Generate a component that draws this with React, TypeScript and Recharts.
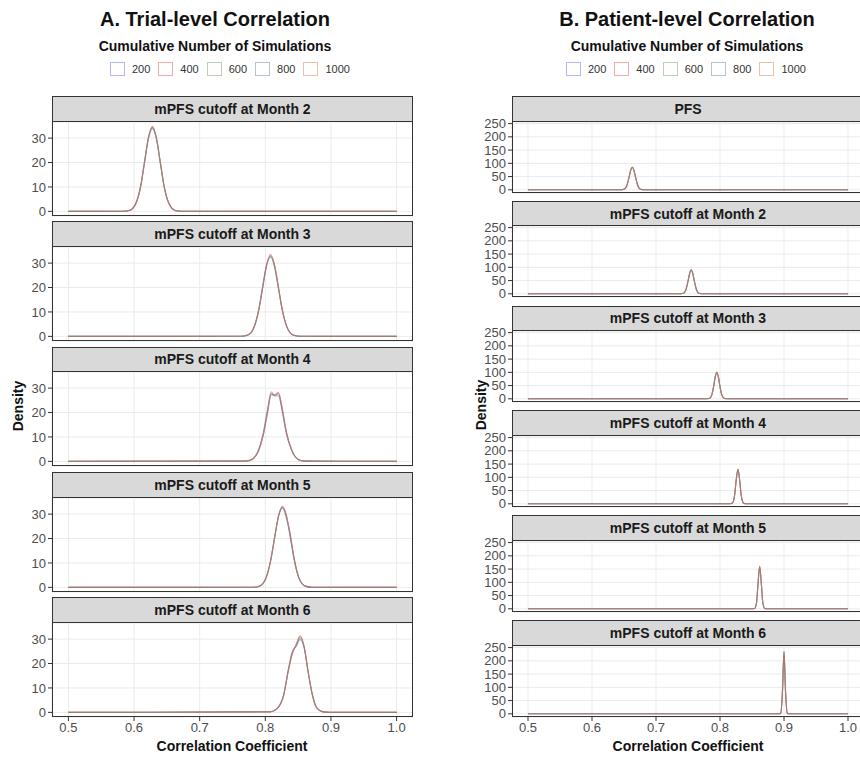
import React from "react";
import { LineChart, Line, XAxis, YAxis, CartesianGrid } from "recharts";

// simulation counts and their colours
const SIMS = ["200", "400", "600", "800", "1000"];
const SIM_COLORS = ["#5b5bf0", "#e04848", "#5f9a5f", "#5a7896", "#d8744c"];

const X_TICKS = [0.5, 0.6, 0.7, 0.8, 0.9, 1.0];
const TRIAL_Y_TICKS = [0, 10, 20, 30];
const PATIENT_Y_TICKS = [0, 50, 100, 150, 200, 250];

// ---- A. trial-level densities (x grid + one row per simulation count) ----
const TRIAL_M2_X = [0.5, 0.583, 0.593, 0.603, 0.61, 0.616, 0.622, 0.628, 0.634, 0.64, 0.646, 0.653, 0.663, 0.673, 1.0];
const TRIAL_M2_Y = [
  [0, 0.03, 0.4, 3.6, 10.5, 20.6, 30.0, 33.8, 29.6, 19.7, 9.8, 3.2, 0.3, 0.02, 0],
  [0, 0.02, 0.35, 3.3, 10.1, 20.2, 30.4, 34.8, 30.3, 20.2, 10.1, 3.3, 0.35, 0.02, 0],
  [0, 0.02, 0.32, 3.2, 9.9, 20.0, 30.2, 34.5, 30.2, 20.3, 10.2, 3.4, 0.36, 0.02, 0],
  [0, 0.02, 0.34, 3.4, 10.1, 20.1, 30.0, 34.2, 30.0, 20.0, 9.9, 3.3, 0.33, 0.02, 0],
  [0, 0.02, 0.33, 3.3, 10.0, 20.1, 30.3, 34.6, 30.2, 20.1, 10.0, 3.3, 0.34, 0.02, 0],
];

const TRIAL_M3_X = [0.5, 0.763, 0.773, 0.783, 0.79, 0.796, 0.802, 0.808, 0.814, 0.82, 0.826, 0.833, 0.843, 0.853, 1.0];
const TRIAL_M3_Y = [
  [0, 0.05, 0.6, 4.2, 11.3, 20.8, 29.4, 32.4, 28.4, 19.4, 10.4, 3.7, 0.5, 0.04, 0],
  [0, 0.03, 0.45, 3.7, 10.5, 19.8, 29.3, 33.6, 29.4, 20.1, 10.7, 3.8, 0.46, 0.03, 0],
  [0, 0.03, 0.44, 3.8, 10.8, 20.1, 29.0, 32.9, 29.2, 20.2, 10.8, 3.8, 0.45, 0.03, 0],
  [0, 0.04, 0.5, 3.9, 10.9, 20.3, 29.2, 32.7, 28.8, 19.8, 10.6, 3.8, 0.47, 0.03, 0],
  [0, 0.03, 0.46, 3.8, 10.7, 20.0, 29.2, 33.2, 29.2, 20.0, 10.7, 3.8, 0.46, 0.03, 0],
];

const TRIAL_M4_X = [0.5, 0.77, 0.78, 0.79, 0.797, 0.803, 0.809, 0.8145, 0.82, 0.826, 0.832, 0.84, 0.85, 0.86, 1.0];
const TRIAL_M4_Y = [
  [0, 0.15, 1.0, 5.0, 12.0, 21.0, 28.5, 26.8, 26.8, 20.0, 11.5, 4.6, 0.8, 0.1, 0],
  [0, 0.1, 0.8, 4.4, 10.8, 19.2, 27.2, 27.3, 28.3, 21.4, 12.2, 4.8, 0.8, 0.1, 0],
  [0, 0.1, 0.8, 4.5, 11.0, 19.6, 27.6, 27.0, 27.9, 21.0, 12.0, 4.8, 0.8, 0.1, 0],
  [0, 0.12, 0.9, 4.7, 11.4, 20.1, 28.0, 26.9, 27.4, 20.6, 11.8, 4.7, 0.8, 0.1, 0],
  [0, 0.1, 0.8, 4.5, 11.0, 19.4, 27.4, 27.1, 28.0, 21.1, 12.1, 4.8, 0.8, 0.1, 0],
];

const TRIAL_M5_X = [0.5, 0.781, 0.791, 0.801, 0.808, 0.814, 0.82, 0.826, 0.832, 0.838, 0.844, 0.851, 0.861, 0.871, 1.0];
const TRIAL_M5_Y = [
  [0, 0.04, 0.5, 4.0, 11.0, 20.4, 29.0, 32.4, 29.0, 20.2, 11.0, 3.8, 0.5, 0.03, 0],
  [0, 0.03, 0.45, 3.7, 10.6, 19.9, 29.1, 33.1, 29.7, 21.3, 11.7, 4.1, 0.5, 0.03, 0],
  [0, 0.03, 0.46, 3.8, 10.7, 20.0, 29.2, 33.0, 29.5, 21.0, 11.5, 4.0, 0.5, 0.03, 0],
  [0, 0.03, 0.47, 3.9, 10.8, 20.2, 29.0, 32.7, 28.2, 22.0, 12.0, 4.1, 0.5, 0.03, 0],
  [0, 0.03, 0.46, 3.8, 10.7, 20.0, 29.1, 33.1, 29.6, 21.1, 11.5, 4.0, 0.5, 0.03, 0],
];

const TRIAL_M6_X = [0.5, 0.808, 0.818, 0.828, 0.835, 0.841, 0.847, 0.853, 0.859, 0.865, 0.871, 0.878, 0.888, 0.898, 1.0];
const TRIAL_M6_Y = [
  [0, 0.25, 1.7, 7.5, 17.6, 24.8, 27.0, 29.8, 26.6, 17.2, 8.2, 2.1, 0.2, 0, 0],
  [0, 0.2, 1.5, 7.0, 16.8, 23.8, 27.6, 31.2, 27.2, 17.0, 8.0, 2.0, 0.2, 0, 0],
  [0, 0.2, 1.5, 7.0, 17.0, 24.0, 27.8, 31.4, 27.0, 16.9, 7.9, 2.0, 0.2, 0, 0],
  [0, 0.22, 1.6, 7.2, 17.3, 24.6, 27.3, 30.4, 26.8, 17.1, 8.1, 2.0, 0.2, 0, 0],
  [0, 0.2, 1.5, 7.0, 17.0, 24.1, 27.6, 31.1, 27.1, 17.0, 8.0, 2.0, 0.2, 0, 0],
];

// ---- B. patient-level densities ----
const PAT_PFS_X = [0.5, 0.643, 0.651, 0.655, 0.658, 0.6605, 0.663, 0.6655, 0.668, 0.671, 0.675, 0.683, 1.0];
const PAT_PFS_Y = [
  [0, 0, 3.5, 20.5, 48.8, 73.6, 84.0, 73.2, 48.0, 20.2, 3.4, 0, 0],
  [0, 0, 3.3, 20.0, 48.3, 74.2, 85.6, 74.1, 48.3, 20.0, 3.3, 0, 0],
  [0, 0, 3.2, 19.8, 48.1, 74.0, 85.3, 74.2, 48.5, 20.1, 3.3, 0, 0],
  [0, 0, 3.4, 20.2, 48.5, 73.8, 84.6, 73.6, 48.1, 19.9, 3.2, 0, 0],
  [0, 0, 3.3, 20.0, 48.3, 73.9, 85.1, 74.0, 48.4, 20.0, 3.3, 0, 0],
];

const PAT_M2_X = [0.5, 0.735, 0.743, 0.747, 0.75, 0.7525, 0.755, 0.7575, 0.76, 0.763, 0.767, 0.775, 1.0];
const PAT_M2_Y = [
  [0, 0, 2.4, 17.6, 47.6, 76.2, 89.0, 76.0, 46.8, 17.0, 2.2, 0, 0],
  [0, 0, 2.2, 17.2, 47.2, 76.9, 90.6, 76.8, 47.3, 17.2, 2.2, 0, 0],
  [0, 0, 2.1, 17.0, 47.0, 76.7, 90.3, 76.9, 47.5, 17.4, 2.3, 0, 0],
  [0, 0, 2.3, 17.4, 47.4, 76.4, 89.6, 76.3, 47.0, 17.1, 2.2, 0, 0],
  [0, 0, 2.2, 17.2, 47.2, 76.6, 90.1, 76.7, 47.3, 17.2, 2.2, 0, 0],
];

const PAT_M3_X = [0.5, 0.775, 0.783, 0.787, 0.79, 0.7925, 0.795, 0.7975, 0.8, 0.803, 0.807, 0.815, 1.0];
const PAT_M3_Y = [
  [0, 0, 1.2, 13.9, 46.2, 81.8, 99.0, 81.6, 45.4, 13.3, 1.1, 0, 0],
  [0, 0, 1.1, 13.5, 45.8, 82.6, 100.6, 82.5, 45.9, 13.5, 1.1, 0, 0],
  [0, 0, 1.0, 13.3, 45.6, 82.4, 100.3, 82.6, 46.1, 13.7, 1.1, 0, 0],
  [0, 0, 1.1, 13.7, 46.0, 82.0, 99.6, 81.9, 45.6, 13.4, 1.1, 0, 0],
  [0, 0, 1.1, 13.5, 45.8, 82.3, 100.1, 82.4, 45.9, 13.5, 1.1, 0, 0],
];

const PAT_M4_X = [0.5, 0.808, 0.816, 0.82, 0.823, 0.8255, 0.828, 0.8305, 0.833, 0.836, 0.84, 0.848, 1.0];
const PAT_M4_Y = [
  [0, 0, 0.1, 4.9, 36.0, 93.4, 128.6, 93.2, 35.1, 4.6, 0.1, 0, 0],
  [0, 0, 0.1, 4.7, 35.5, 94.4, 130.8, 94.3, 35.6, 4.7, 0.1, 0, 0],
  [0, 0, 0.1, 4.6, 35.3, 94.2, 130.4, 94.5, 35.8, 4.8, 0.1, 0, 0],
  [0, 0, 0.1, 4.8, 35.7, 93.8, 129.4, 93.7, 35.3, 4.7, 0.1, 0, 0],
  [0, 0, 0.1, 4.7, 35.5, 94.0, 130.1, 94.1, 35.6, 4.7, 0.1, 0, 0],
];

const PAT_M5_X = [0.5, 0.842, 0.85, 0.854, 0.857, 0.8595, 0.862, 0.8645, 0.867, 0.87, 0.874, 0.882, 1.0];
const PAT_M5_Y = [
  [0, 0, 0, 1.1, 22.0, 96.4, 158.2, 96.0, 21.2, 1.0, 0, 0, 0],
  [0, 0, 0, 1.0, 21.6, 97.5, 161.0, 97.4, 21.7, 1.0, 0, 0, 0],
  [0, 0, 0, 1.0, 21.4, 97.2, 160.5, 97.6, 21.9, 1.0, 0, 0, 0],
  [0, 0, 0, 1.0, 21.8, 96.8, 159.2, 96.6, 21.4, 1.0, 0, 0, 0],
  [0, 0, 0, 1.0, 21.6, 97.0, 160.2, 97.1, 21.6, 1.0, 0, 0, 0],
];

const PAT_M6_X = [0.5, 0.88, 0.888, 0.892, 0.895, 0.8975, 0.9, 0.9025, 0.905, 0.908, 0.912, 0.92, 1.0];
const PAT_M6_Y = [
  [0, 0, 0, 0, 3.3, 79.0, 232.0, 79.2, 3.0, 0, 0, 0, 0],
  [0, 0, 0, 0, 3.1, 80.2, 236.4, 80.1, 3.1, 0, 0, 0, 0],
  [0, 0, 0, 0, 3.0, 80.0, 235.8, 80.4, 3.2, 0, 0, 0, 0],
  [0, 0, 0, 0, 3.2, 79.4, 233.6, 79.3, 3.0, 0, 0, 0, 0],
  [0, 0, 0, 0, 3.1, 79.7, 235.1, 79.8, 3.1, 0, 0, 0, 0],
];

const TRIAL_PANELS = [
  { label: "mPFS cutoff at Month 2", xs: TRIAL_M2_X, ys: TRIAL_M2_Y },
  { label: "mPFS cutoff at Month 3", xs: TRIAL_M3_X, ys: TRIAL_M3_Y },
  { label: "mPFS cutoff at Month 4", xs: TRIAL_M4_X, ys: TRIAL_M4_Y },
  { label: "mPFS cutoff at Month 5", xs: TRIAL_M5_X, ys: TRIAL_M5_Y },
  { label: "mPFS cutoff at Month 6", xs: TRIAL_M6_X, ys: TRIAL_M6_Y },
];

const PATIENT_PANELS = [
  { label: "PFS", xs: PAT_PFS_X, ys: PAT_PFS_Y },
  { label: "mPFS cutoff at Month 2", xs: PAT_M2_X, ys: PAT_M2_Y },
  { label: "mPFS cutoff at Month 3", xs: PAT_M3_X, ys: PAT_M3_Y },
  { label: "mPFS cutoff at Month 4", xs: PAT_M4_X, ys: PAT_M4_Y },
  { label: "mPFS cutoff at Month 5", xs: PAT_M5_X, ys: PAT_M5_Y },
  { label: "mPFS cutoff at Month 6", xs: PAT_M6_X, ys: PAT_M6_Y },
];

const FONT = '"Liberation Sans", Arial, Helvetica, sans-serif';
const STRIP_H = 25.7;
const X_AXIS_H = 22;
const PAD = 8; // room above/below the plot so end tick labels are not clipped

function Panel({ left, top, yAxisW, plotW, plotH, label, xs, ys, yDomain, yTicks, showX, tickSize }) {
  const rows = xs.map((x, i) => {
    const r = { x };
    ys.forEach((s, k) => (r["s" + k] = s[i]));
    return r;
  });
  return (
    <div style={{ position: "absolute", left, top }}>
      <div
        style={{
          position: "absolute",
          left: yAxisW,
          top: 0,
          width: plotW,
          height: STRIP_H,
          boxSizing: "border-box",
          border: "1.2px solid #333",
          background: "#d9d9d9",
          color: "#1a1a1a",
          fontWeight: "bold",
          fontSize: 14,
          display: "flex",
          alignItems: "center",
          justifyContent: "center",
        }}
      >
        {label}
      </div>
      <div style={{ position: "absolute", left: 0, top: STRIP_H - PAD }}>
        <LineChart
          width={yAxisW + plotW}
          height={plotH + PAD + (showX ? X_AXIS_H : PAD)}
          data={rows}
          margin={{ top: PAD, right: 0, bottom: showX ? 0 : PAD, left: 0 }}
        >
          <CartesianGrid stroke="#ebebeb" strokeWidth={1} />
          <XAxis
            type="number"
            dataKey="x"
            domain={[0.475, 1.025]}
            ticks={X_TICKS}
            allowDataOverflow
            hide={!showX}
            height={X_AXIS_H}
            tickFormatter={(v) => v.toFixed(1)}
            tick={{ fontSize: 13, fill: "#4d4d4d" }}
            tickSize={4}
            tickLine={{ stroke: "#333" }}
            axisLine={false}
            interval={0}
          />
          <YAxis
            type="number"
            domain={yDomain}
            ticks={yTicks}
            allowDataOverflow
            width={yAxisW}
            tick={{ fontSize: tickSize, fill: "#4d4d4d" }}
            tickSize={4}
            tickLine={{ stroke: "#333" }}
            axisLine={false}
            interval={0}
          />
          {SIMS.map((s, k) => (
            <Line
              key={s}
              type="monotone"
              dataKey={"s" + k}
              name={s}
              stroke={SIM_COLORS[k]}
              strokeOpacity={0.45}
              strokeWidth={1.1}
              dot={false}
              isAnimationActive={false}
            />
          ))}
        </LineChart>
      </div>
      <div
        style={{
          position: "absolute",
          left: yAxisW,
          top: STRIP_H - 1,
          width: plotW,
          height: plotH + 1,
          boxSizing: "border-box",
          border: "1.2px solid #333",
          pointerEvents: "none",
        }}
      />
    </div>
  );
}

function Legend({ left, top }) {
  return (
    <div style={{ position: "absolute", left, top, display: "flex", alignItems: "center", fontSize: 11, color: "#333" }}>
      {SIMS.map((s, k) => (
        <div key={s} style={{ display: "flex", alignItems: "center", marginRight: 8 }}>
          <div
            style={{
              width: 15,
              height: 14,
              boxSizing: "border-box",
              border: `1px solid ${SIM_COLORS[k]}`,
              opacity: 0.45,
              marginRight: 7,
            }}
          />
          <span>{s}</span>
        </div>
      ))}
    </div>
  );
}

function Heading({ cx, title }) {
  return (
    <>
      <div style={{ position: "absolute", left: cx - 200, width: 400, top: 8, textAlign: "center", fontWeight: "bold", fontSize: 20, color: "#111" }}>
        {title}
      </div>
      <div style={{ position: "absolute", left: cx - 200, width: 400, top: 38, textAlign: "center", fontWeight: "bold", fontSize: 14, color: "#111" }}>
        Cumulative Number of Simulations
      </div>
    </>
  );
}

function AxisTitles({ cx, densityX, densityY }) {
  return (
    <>
      <div style={{ position: "absolute", left: cx - 150, width: 300, top: 738, textAlign: "center", fontWeight: "bold", fontSize: 14, color: "#111" }}>
        Correlation Coefficient
      </div>
      <div
        style={{
          position: "absolute",
          left: densityX - 40,
          top: densityY - 9,
          width: 80,
          textAlign: "center",
          fontWeight: "bold",
          fontSize: 14,
          color: "#111",
          transform: "rotate(-90deg)",
        }}
      >
        Density
      </div>
    </>
  );
}

export default function App() {
  const trialPeriod = 125.3;
  const patPeriod = 104.8;
  return (
    <div style={{ position: "absolute", left: 0, top: 0, width: 860, height: 758, overflow: "hidden", background: "#fff", fontFamily: FONT }}>
      <Heading cx={215} title="A. Trial-level Correlation" />
      <Heading cx={687} title="B. Patient-level Correlation" />
      <Legend left={110} top={62} />
      <Legend left={566} top={62} />

      {TRIAL_PANELS.map((p, i) => (
        <Panel
          key={"t" + i}
          left={0}
          top={96 + i * trialPeriod}
          yAxisW={52}
          plotW={361}
          plotH={94}
          label={p.label}
          xs={p.xs}
          ys={p.ys}
          yDomain={[-1.9, 36.6]}
          yTicks={TRIAL_Y_TICKS}
          showX={i === TRIAL_PANELS.length - 1}
          tickSize={13}
        />
      ))}
      {PATIENT_PANELS.map((p, i) => (
        <Panel
          key={"p" + i}
          left={440}
          top={96 + i * patPeriod}
          yAxisW={72}
          plotW={352}
          plotH={71}
          label={p.label}
          xs={p.xs}
          ys={p.ys}
          yDomain={[-12, 256]}
          yTicks={PATIENT_Y_TICKS}
          showX={i === PATIENT_PANELS.length - 1}
          tickSize={13}
        />
      ))}

      <AxisTitles cx={232} densityX={18} densityY={407} />
      <AxisTitles cx={688} densityX={481} densityY={406} />
    </div>
  );
}
